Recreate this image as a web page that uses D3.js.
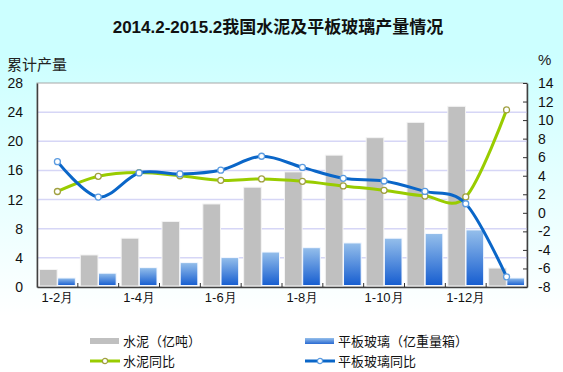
<!DOCTYPE html>
<html>
<head>
<meta charset="utf-8">
<script src="https://cdn.jsdelivr.net/npm/d3@7"></script>
<style>
  html, body { margin: 0; padding: 0; }
  svg { display: block; font-family: "Liberation Sans", "Noto Sans CJK SC", sans-serif; }
</style>
</head>
<body>
<svg id="chart" width="563" height="372"></svg>
<script>
// periods (2014.1-2 ... 2015.1-2)
let categories = ["2014.1-2", "2014.1-3", "2014.1-4", "2014.1-5", "2014.1-6", "2014.1-7",
  "2014.1-8", "2014.1-9", "2014.1-10", "2014.1-11", "2014.1-12", "2015.1-2"];
let tickLabels = ["1-2月", "", "1-4月", "", "1-6月", "", "1-8月", "", "1-10月", "", "1-12月", ""];

let cement = [2.4, 4.4, 6.7, 9.0, 11.4, 13.7, 15.8, 18.1, 20.5, 22.6, 24.8, 2.6];      // 亿吨
let glass = [1.24, 1.9, 2.66, 3.35, 4.04, 4.8, 5.4, 6.05, 6.7, 7.34, 7.84, 1.24];      // 亿重量箱
let cementYoY = [2.3, 3.94, 4.34, 4.0, 3.5, 3.65, 3.4, 2.9, 2.43, 1.81, 1.71, 11.1];    // %
let glassYoY = [5.52, 1.7, 4.3, 4.19, 4.6, 6.1, 4.9, 3.72, 3.43, 2.31, 0.98, -6.9];     // %

let leftTicks = [0, 4, 8, 12, 16, 20, 24, 28];
let rightTicks = [-8, -6, -4, -2, 0, 2, 4, 6, 8, 10, 12, 14];

let svg = d3.select("#chart");
let width = +svg.attr("width");
let height = +svg.attr("height");

let margin = { top: 83, right: 36, bottom: 85, left: 37 };
let plotW = width - margin.left - margin.right;
let plotH = height - margin.top - margin.bottom;

let defs = svg.append("defs");
let bg = defs.append("linearGradient").attr("id", "bg")
  .attr("x1", 0).attr("y1", 0).attr("x2", 0).attr("y2", 1);
bg.append("stop").attr("offset", "0.15").attr("stop-color", "#ccffff");
bg.append("stop").attr("offset", "0.85").attr("stop-color", "#ffffff");

let barGrad = defs.append("linearGradient").attr("id", "glassGrad")
  .attr("x1", 0).attr("y1", 0).attr("x2", 0).attr("y2", 1);
barGrad.append("stop").attr("offset", "0").attr("stop-color", "#95bfeb");
barGrad.append("stop").attr("offset", "1").attr("stop-color", "#165dd0");

svg.append("rect").attr("width", width).attr("height", height).attr("fill", "url(#bg)");

// title
svg.append("text")
  .attr("x", 278).attr("y", 33)
  .attr("text-anchor", "middle")
  .attr("font-size", 17).attr("font-weight", "bold")
  .attr("fill", "#111")
  .text("2014.2-2015.2我国水泥及平板玻璃产量情况");

svg.append("text").attr("x", 7).attr("y", 70).attr("font-size", 15).attr("fill", "#222").text("累计产量");
svg.append("text").attr("x", 538).attr("y", 65).attr("font-size", 15).attr("fill", "#222").text("%");

let g = svg.append("g").attr("transform", `translate(${margin.left},${margin.top})`);

let x = d3.scaleBand().domain(categories).range([0, plotW]);
let xInner = d3.scaleBand().domain(["cement", "glass"]).range([2.5, x.bandwidth() - 2.5]).paddingInner(0.03);
let yLeft = d3.scaleLinear().domain([0, 28]).range([plotH, 0]);
let yRight = d3.scaleLinear().domain([-8, 14]).range([plotH, 0]);

g.append("rect").attr("width", plotW).attr("height", plotH).attr("fill", "#fff")
  .attr("stroke", "#a8a8a8").attr("stroke-width", 1);

// gridlines
g.append("g")
  .selectAll("line")
  .data(leftTicks.slice(1, -1))
  .join("line")
  .attr("x1", 0).attr("x2", plotW)
  .attr("y1", d => yLeft(d)).attr("y2", d => yLeft(d))
  .attr("stroke", "#d6d6f6").attr("stroke-width", 1.5);

// bars
let groups = g.append("g").selectAll("g")
  .data(categories)
  .join("g")
  .attr("transform", d => `translate(${x(d)},0)`);

groups.append("rect")
  .attr("x", xInner("cement"))
  .attr("width", xInner.bandwidth())
  .attr("y", (d, i) => yLeft(cement[i]))
  .attr("height", (d, i) => yLeft(0) - yLeft(cement[i]) - 1)
  .attr("fill", "#c0c0c0").attr("stroke", "#f4f4f4").attr("stroke-width", 1);

groups.append("rect")
  .attr("x", xInner("glass"))
  .attr("width", xInner.bandwidth())
  .attr("y", (d, i) => yLeft(glass[i]))
  .attr("height", (d, i) => yLeft(0) - yLeft(glass[i]) - 1.5)
  .attr("fill", "url(#glassGrad)").attr("stroke", "#f4f8ff").attr("stroke-width", 1);

// axes
let xAxis = d3.axisBottom(x).tickSize(0).tickFormat((d, i) => tickLabels[i]);
let xAx = g.append("g").attr("transform", `translate(0,${plotH})`).call(xAxis);
xAx.select(".domain").attr("stroke", "#404040").attr("stroke-width", 1.5);
xAx.selectAll("text").attr("font-size", 13).attr("fill", "#111").attr("dy", "0.95em");

g.append("g").selectAll("line")
  .data(categories.slice(1))
  .join("line")
  .attr("x1", d => x(d)).attr("x2", d => x(d))
  .attr("y1", plotH).attr("y2", plotH - 4)
  .attr("stroke", "#303030");

let yAx = g.append("g").call(d3.axisLeft(yLeft).tickValues(leftTicks).tickSize(0).tickPadding(14));
yAx.select(".domain").attr("stroke", "#404040").attr("stroke-width", 1.5);
yAx.selectAll("text").attr("font-size", 14).attr("fill", "#111");

let yAxR = g.append("g").attr("transform", `translate(${plotW},0)`)
  .call(d3.axisRight(yRight).tickValues(rightTicks).tickFormat(d => String(d))
    .tickSizeInner(-4).tickSizeOuter(0).tickPadding(11));
yAxR.select(".domain").attr("stroke", "#404040").attr("stroke-width", 1.5);
yAxR.selectAll("line").attr("stroke", "#303030");
yAxR.selectAll("text").attr("font-size", 14).attr("fill", "#111");

// lines
let cx = d => x(d) + x.bandwidth() / 2;
let lineGen = vals => d3.line()
  .x(d => cx(d))
  .y((d, i) => yRight(vals[i]))
  .curve(d3.curveCardinal.tension(0));

let series = [
  { values: cementYoY, color: "#99cc00", marker: "#a0a040" },
  { values: glassYoY, color: "#0a66c8", marker: "#5b9be0" }
];

series.forEach(s => {
  g.append("path")
    .datum(categories)
    .attr("d", lineGen(s.values))
    .attr("fill", "none")
    .attr("stroke", s.color)
    .attr("stroke-width", 3);
  g.append("g").selectAll("circle")
    .data(categories)
    .join("circle")
    .attr("cx", d => cx(d))
    .attr("cy", (d, i) => yRight(s.values[i]))
    .attr("r", 3)
    .attr("fill", "#fff")
    .attr("stroke", s.marker)
    .attr("stroke-width", 1.3);
});

// legend
let legendGrad = defs.append("linearGradient").attr("id", "legendGrad")
  .attr("x1", 0).attr("y1", 0).attr("x2", 0).attr("y2", 1);
legendGrad.append("stop").attr("offset", "0").attr("stop-color", "#95bfeb");
legendGrad.append("stop").attr("offset", "1").attr("stop-color", "#2a6ad2");

let legend = svg.append("g").attr("font-size", 13).attr("fill", "#111");
let legendItems = [
  { label: "水泥（亿吨）", type: "bar", fill: "#c0c0c0", x: 90, y: 341 },
  { label: "平板玻璃（亿重量箱）", type: "bar", fill: "url(#legendGrad)", x: 305, y: 341 },
  { label: "水泥同比", type: "line", color: "#99cc00", marker: "#a0a040", x: 90, y: 361 },
  { label: "平板玻璃同比", type: "line", color: "#0a66c8", marker: "#5b9be0", x: 305, y: 361 }
];

legendItems.forEach(it => {
  let lg = legend.append("g").attr("transform", `translate(${it.x},${it.y})`);
  if (it.type === "bar") {
    lg.append("rect").attr("x", 0).attr("y", -3).attr("width", 29).attr("height", 6).attr("fill", it.fill);
  } else {
    lg.append("line").attr("x1", 0).attr("x2", 30).attr("y1", 0).attr("y2", 0)
      .attr("stroke", it.color).attr("stroke-width", 3);
    lg.append("circle").attr("cx", 15).attr("r", 2.6).attr("fill", "#fff")
      .attr("stroke", it.marker).attr("stroke-width", 1.2);
  }
  lg.append("text").attr("x", 33).attr("dy", "0.36em").text(it.label);
});
</script>
</body>
</html>
